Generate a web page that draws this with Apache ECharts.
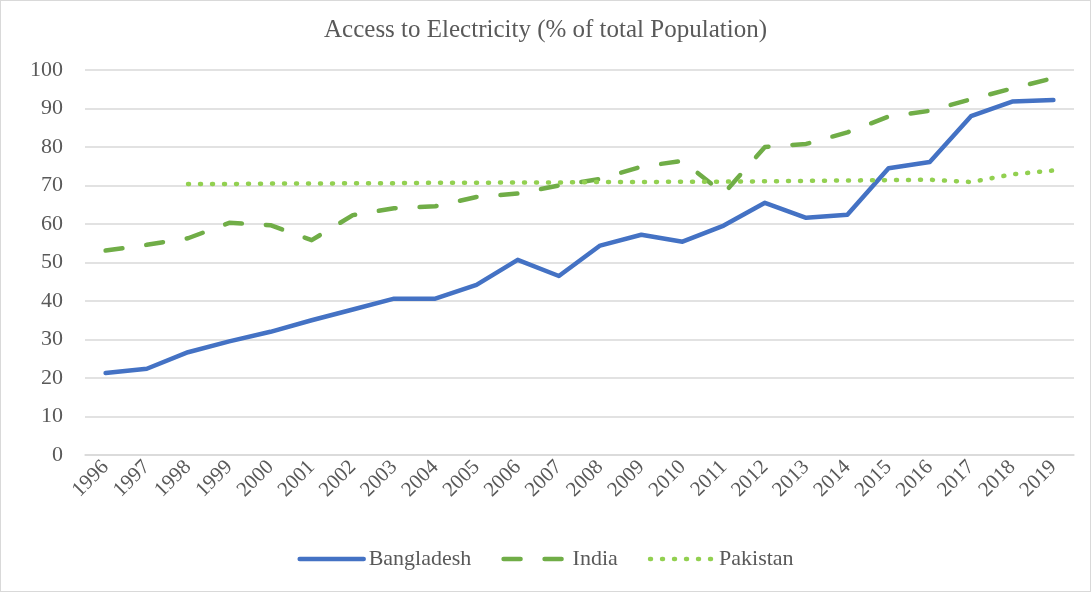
<!DOCTYPE html>
<html>
<head>
<meta charset="utf-8">
<script src="https://cdn.jsdelivr.net/npm/echarts@6/dist/echarts.min.js"></script>
<style>
  html, body { margin: 0; padding: 0; background: #fff; }
  #chart { width: 1091px; height: 592px; box-sizing: border-box; border: 1px solid #d9d9d9; }
</style>
</head>
<body>
<div id="chart"></div>
<script>
const years = ['1996', '1997', '1998', '1999', '2000', '2001', '2002', '2003', '2004', '2005', '2006', '2007',
  '2008', '2009', '2010', '2011', '2012', '2013', '2014', '2015', '2016', '2017', '2018', '2019']
const bangladesh = [21.3, 22.4, 26.7, 29.5, 32.0, 35.0, 37.8, 40.6, 40.6, 44.2, 50.7, 46.5,
  54.4, 57.2, 55.4, 59.6, 65.5, 61.6, 62.4, 74.5, 76.1, 88.0, 91.8, 92.2]
const india = [53.1, 54.6, 56.3, 60.3, 59.7, 55.8, 62.3, 64.1, 64.6, 67.0, 67.9, 70.0,
  71.7, 74.9, 76.4, 67.9, 80.0, 80.8, 83.8, 87.9, 89.4, 92.4, 95.2, 97.9]
const pakistan = [null, null, 70.4, 70.4, 70.5, 70.5, 70.6, 70.6, 70.7, 70.7, 70.8, 70.8,
  70.9, 70.9, 71.0, 71.0, 71.1, 71.2, 71.3, 71.4, 71.5, 70.9, 72.9, 73.9]

const serif = '"Liberation Serif", "Times New Roman", serif'
const txt = '#595959'

const chart = echarts.init(document.getElementById('chart'))
chart.setOption({
  animation: false,
  textStyle: { fontFamily: serif },
  title: {
    text: 'Access to Electricity (% of total Population)',
    left: 'center',
    top: 12,
    textStyle: { fontFamily: serif, fontSize: 25, fontWeight: 'normal', color: txt }
  },
  legend: {
    top: 542,
    left: 'center',
    itemWidth: 64,
    itemHeight: 14,
    itemGap: 30,
    itemStyle: { opacity: 0 },
    lineStyle: { width: 4.5, cap: 'round' },
    textStyle: { fontFamily: serif, fontSize: 22, color: txt },
    data: ['Bangladesh', 'India', 'Pakistan']
  },
  grid: { left: 84, right: 16, top: 69, bottom: 136 },
  xAxis: {
    type: 'category',
    data: years,
    boundaryGap: true,
    axisLine: { lineStyle: { color: '#d9d9d9', width: 1.5 } },
    axisTick: { show: false },
    axisLabel: { rotate: 45, fontFamily: serif, fontSize: 21, color: txt, margin: 9, interval: 0 }
  },
  yAxis: {
    type: 'value',
    min: 0,
    max: 100,
    interval: 10,
    axisLine: { show: false },
    axisTick: { show: false },
    splitLine: { lineStyle: { color: '#d9d9d9', width: 1.5 } },
    axisLabel: { fontFamily: serif, fontSize: 22, color: txt, margin: 22 }
  },
  series: [
    {
      name: 'Bangladesh',
      type: 'line',
      data: bangladesh,
      symbol: 'none',
      color: '#4472C4',
      lineStyle: { width: 4.5, color: '#4472C4', cap: 'round', join: 'round' }
    },
    {
      name: 'India',
      type: 'line',
      data: india,
      symbol: 'none',
      color: '#70AD47',
      lineStyle: { width: 4.5, color: '#70AD47', type: [17, 24], cap: 'round', join: 'round' }
    },
    {
      name: 'Pakistan',
      type: 'line',
      data: pakistan,
      symbol: 'none',
      color: '#92D050',
      lineStyle: { width: 4.5, color: '#92D050', type: [1, 11], cap: 'round', join: 'round' }
    }
  ]
})
</script>
</body>
</html>
